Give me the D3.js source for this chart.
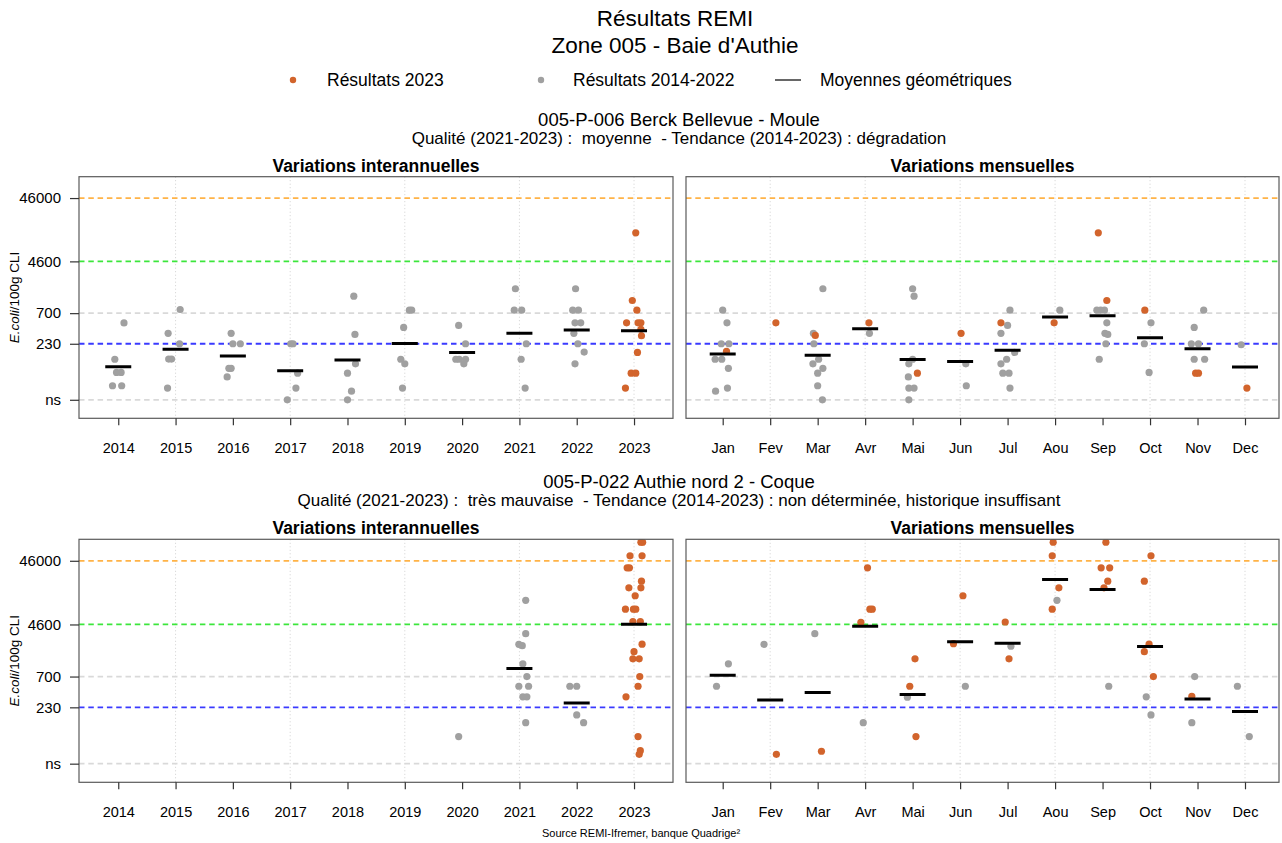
<!DOCTYPE html>
<html><head><meta charset="utf-8">
<script src="https://cdn.jsdelivr.net/npm/d3@7"></script>
<style>
body{margin:0;background:#fff;}
text{font-family:"Liberation Sans",Arial,sans-serif;fill:#000;}
</style>
</head><body>
<svg id="chart" width="1282" height="843"></svg>
<script>
// ---------------- DATA ----------------
const years = [2014,2015,2016,2017,2018,2019,2020,2021,2022,2023];
const months = ["Jan","Fev","Mar","Avr","Mai","Jun","Jul","Aou","Sep","Oct","Nov","Dec"];
const yTickValues = [30,230,700,4600,46000];
const yTickLabels = ["ns","230","700","4600","46000"];
const thresholdValues = [46000,4600,700,230,30];

const mainTitle = "Résultats REMI";
const zoneTitle = "Zone 005 - Baie d'Authie";
const legendLabels = ["Résultats 2023","Résultats 2014-2022","Moyennes géométriques"];
const sourceText = "Source REMI-Ifremer, banque Quadrige²";

// Station 1 : 005-P-006 Berck Bellevue - Moule
const s1Title = "005-P-006 Berck Bellevue - Moule";
const s1Subtitle = "Qualité (2021-2023) :  moyenne  - Tendance (2014-2023) : dégradation";
// [year, E.coli value, jitter]
const s1YearPoints = [
 [2014,490,0.10],[2014,131,-0.06],[2014,81,-0.03],[2014,81,0.05],[2014,50,-0.10],[2014,50,0.06],
 [2015,800,0.08],[2015,336,-0.13],[2015,230,0.07],[2015,132,-0.12],[2015,132,-0.07],[2015,46,-0.14],
 [2016,336,-0.03],[2016,230,0],[2016,230,0.13],[2016,94,-0.07],[2016,94,-0.03],[2016,69,-0.10],
 [2017,230,0.01],[2017,230,0.05],[2017,79,0.13],[2017,46,0.10],[2017,30,-0.05],
 [2018,1300,0.11],[2018,323,0.13],[2018,111,0.14],[2018,79,0],[2018,41,0.07],[2018,30,0],
 [2019,780,0.12],[2019,780,0.08],[2019,417,-0.02],[2019,131,-0.07],[2019,111,0],[2019,46,-0.04],
 [2020,448,-0.06],[2020,230,0.06],[2020,131,-0.11],[2020,131,-0.05],[2020,131,0.06],[2020,111,0.03],
 [2021,1700,-0.07],[2021,780,-0.09],[2021,780,0.04],[2021,230,0.12],[2021,131,0.03],[2021,46,0.10],
 [2022,1700,-0.02],[2022,780,-0.07],[2022,780,0.03],[2022,493,-0.03],[2022,493,0.07],[2022,336,-0.05],[2022,230,0.02],[2022,170,0.13],[2022,111,-0.03],
 [2023,13000,0.03],[2023,1110,-0.03],[2023,780,0.05],[2023,493,-0.13],[2023,493,0.07],[2023,493,0.12],[2023,390,0.12],[2023,308,0.13],[2023,168,0.06],[2023,79,-0.05],[2023,79,0.03],[2023,46,-0.15]
];
const s1YearMeans = [100,188,147,86,127,232,168,336,378,369];
// [month, value, 2023 flag, jitter]
const s1MonthPoints = [
 [1,780,0,0],[1,493,0,0.09],[1,230,0,-0.03],[1,230,0,0.13],[1,131,0,-0.16],[1,131,0,-0.02],[1,94,0,0.12],[1,46,0,0.10],[1,41,0,-0.15],[1,175,1,0.08],
 [2,493,1,0.12],
 [3,1700,0,0.11],[3,336,0,-0.09],[3,230,0,-0.08],[3,131,0,0.02],[3,111,0,-0.10],[3,94,0,0.11],[3,79,0,0],[3,50,0,0],[3,30,0,0.10],[3,312,1,-0.05],
 [4,336,0,0.09],[4,493,1,0.08],
 [5,1700,0,0],[5,1300,0,0.03],[5,131,0,0],[5,111,0,-0.08],[5,69,0,-0.09],[5,46,0,-0.08],[5,46,0,0.03],[5,30,0,-0.08],[5,79,1,0.10],
 [6,111,0,0.12],[6,50,0,0.13],[6,336,1,0.02],
 [7,780,0,0.05],[7,448,0,0],[7,336,0,-0.14],[7,168,0,0.15],[7,131,0,-0.02],[7,111,0,-0.14],[7,79,0,-0.10],[7,79,0,0.03],[7,46,0,0.05],[7,493,1,-0.14],
 [8,780,0,0.10],[8,493,1,-0.02],
 [9,780,0,-0.12],[9,780,0,-0.04],[9,780,0,0.04],[9,493,0,0.09],[9,336,0,0.05],[9,323,0,0.11],[9,230,0,0.07],[9,131,0,-0.07],[9,13000,1,-0.09],[9,1110,1,0.09],
 [10,493,0,0.02],[10,230,0,-0.12],[10,81,0,-0.02],[10,780,1,-0.11],
 [11,780,0,0.13],[11,417,0,-0.07],[11,230,0,-0.13],[11,230,0,0.02],[11,131,0,-0.07],[11,131,0,0.15],[11,79,1,-0.04],[11,79,1,0.02],
 [12,222,0,-0.08],[12,46,1,0.04]
];
const s1MonthMeans = [158,null,151,396,130,121,181,606,636,286,192,99];

// Station 2 : 005-P-022 Authie nord 2 - Coque
const s2Title = "005-P-022 Authie nord 2 - Coque";
const s2Subtitle = "Qualité (2021-2023) :  très mauvaise  - Tendance (2014-2023) : non déterminée, historique insuffisant";
const s2YearPoints = [
 [2020,80,-0.06],
 [2021,11000,0.11],[2021,3300,0.11],[2021,2240,-0.01],[2021,2140,0.05],[2021,1110,0.06],[2021,700,0.13],[2021,493,-0.01],[2021,493,0.16],[2021,336,0.06],[2021,336,0.13],[2021,132,0.11],
 [2022,493,-0.12],[2022,493,0],[2022,175,0],[2022,132,0.12],
 [2023,90000,0.12],[2023,90000,0.15],[2023,55000,-0.07],[2023,55000,0.14],[2023,35700,-0.12],[2023,35700,-0.08],[2023,22000,0.13],[2023,17300,-0.09],[2023,17300,0.12],[2023,13000,0.02],[2023,8000,-0.15],[2023,8000,-0.01],[2023,8000,0.03],[2023,5100,-0.02],[2023,5100,0.11],[2023,2260,0.14],[2023,1720,0],[2023,1330,-0.02],[2023,1330,0.09],[2023,700,0.10],[2023,493,0.07],[2023,336,-0.14],[2023,80,0.07],[2023,48,0.11],[2023,42,0.09]
];
const s2YearMeans = [null,null,null,null,null,null,null,938,270,4620];
const s2MonthPoints = [
 [1,1110,0,0.12],[1,493,0,-0.13],
 [2,2240,0,-0.13],[2,42,1,0.13],
 [3,3300,0,-0.06],[3,47,1,0.08],
 [4,132,0,-0.04],[4,35700,1,0.05],[4,8000,1,0.10],[4,8000,1,0.15],[4,4980,1,-0.09],
 [5,331,0,-0.11],[5,1330,1,0.05],[5,493,1,-0.06],[5,80,1,0.07],
 [6,493,0,0.11],[6,13000,1,0.06],[6,2300,1,-0.14],
 [7,2100,0,0.07],[7,5030,1,-0.05],[7,1330,1,0.03],
 [8,11000,0,0.04],[8,90000,1,-0.04],[8,55000,1,-0.06],[8,17300,1,0.08],[8,8000,1,-0.06],
 [9,493,0,0.13],[9,90000,1,0.07],[9,35700,1,-0.03],[9,35700,1,0.15],[9,22000,1,0.11],[9,17300,1,0.03],
 [10,336,0,-0.08],[10,175,0,0.02],[10,55000,1,0.02],[10,22000,1,-0.12],[10,2260,1,-0.02],[10,1720,1,-0.12],[10,700,1,0.07],
 [11,700,0,-0.06],[11,132,0,-0.12],[11,343,1,-0.12],
 [12,493,0,-0.16],[12,80,0,0.09]
];
const s2MonthMeans = [734,301,392,4300,365,2470,2340,23400,16300,2080,312,197];

// ---------------- STYLE / LAYOUT ----------------
const COL_RECENT = "#D2642C", COL_OLD = "#A0A0A0";
const thresholdColors = ["#FFB347","#3CE63C","#D9D9D9","#3A3AFF","#D9D9D9"];
const FONT = '"Liberation Sans", Arial, sans-serif';
const W = 1282, H = 843;
const LEFT = [79, 673], RIGHT = [686, 1279];
const ROWS = [[176.7, 418.3], [539.3, 782.3]];
const yDomain = [15.3, 100000];

const svg = d3.select("#chart");
svg.append("rect").attr("width", W).attr("height", H).attr("fill", "#fff");
const defs = svg.append("defs");

function txt(x, y, s, size, opts = {}) {
  const t = svg.append("text").attr("x", x).attr("y", y)
    .attr("text-anchor", opts.anchor || "middle")
    .style("font-size", size + "px").style("white-space", "pre")
    .style("font-weight", opts.bold ? "bold" : "normal")
    .text(s);
  return t;
}

// Titles
const CX = 675;
txt(CX, 26, mainTitle, 22.5);
txt(CX, 53, zoneTitle, 22.5);

// Legend
svg.append("circle").attr("cx", 293).attr("cy", 80).attr("r", 3.2).attr("fill", COL_RECENT);
txt(327, 86, legendLabels[0], 17.5, {anchor: "start"});
svg.append("circle").attr("cx", 541).attr("cy", 80).attr("r", 3.2).attr("fill", COL_OLD);
txt(573, 86, legendLabels[1], 17.5, {anchor: "start"});
svg.append("line").attr("x1", 775).attr("x2", 801).attr("y1", 80).attr("y2", 80).attr("stroke", "#000").attr("stroke-width", 1.2);
txt(820, 86, legendLabels[2], 17.5, {anchor: "start"});

let clipId = 0;
function drawPanel(xr, yr, xScale, tickVals, tickLabs, gridVals, points, means, meanKeys, showY) {
  const y = d3.scaleLog().domain(yDomain).range([yr[1], yr[0]]);
  const g = svg.append("g");
  const id = "clip" + (clipId++);
  defs.append("clipPath").attr("id", id).append("rect")
    .attr("x", xr[0]).attr("y", yr[0]).attr("width", xr[1] - xr[0]).attr("height", yr[1] - yr[0]);
  const inner = g.append("g").attr("clip-path", `url(#${id})`);
  inner.selectAll(".grid").data(gridVals).join("line")
    .attr("x1", d => xScale(d)).attr("x2", d => xScale(d))
    .attr("y1", yr[0]).attr("y2", yr[1])
    .attr("stroke", "#D0D0D0").attr("stroke-width", 1).attr("stroke-dasharray", "1,2.5");
  inner.selectAll(".thr").data(thresholdValues).join("line")
    .attr("x1", xr[0]).attr("x2", xr[1])
    .attr("y1", d => y(d)).attr("y2", d => y(d))
    .attr("stroke", (d, i) => thresholdColors[i]).attr("stroke-width", 1.8)
    .attr("stroke-dasharray", "5.5,3.8");
  const sorted = points.slice().sort((a, b) => a.recent - b.recent);
  inner.selectAll(".pt").data(sorted).join("circle")
    .attr("cx", d => xScale(d.x + d.j)).attr("cy", d => y(d.v)).attr("r", 3.6)
    .attr("fill", d => d.recent ? COL_RECENT : COL_OLD);
  const md = meanKeys.map((k, i) => ({k, m: means[i]})).filter(d => d.m != null);
  inner.selectAll(".mean").data(md).join("line")
    .attr("x1", d => xScale(d.k) - 13).attr("x2", d => xScale(d.k) + 13)
    .attr("y1", d => y(d.m)).attr("y2", d => y(d.m))
    .attr("stroke", "#000").attr("stroke-width", 3);
  g.append("rect").attr("x", xr[0]).attr("y", yr[0]).attr("width", xr[1] - xr[0]).attr("height", yr[1] - yr[0])
    .attr("fill", "none").attr("stroke", "#5a5a5a").attr("stroke-width", 1.2);
  const xa = g.append("g").attr("transform", `translate(0,${yr[1]})`)
    .call(d3.axisBottom(xScale).tickValues(tickVals).tickFormat((d, i) => tickLabs[i]).tickSize(7).tickSizeOuter(0).tickPadding(17));
  xa.select(".domain").remove();
  xa.selectAll("line").attr("stroke", "#333").attr("stroke-width", 1.2);
  xa.selectAll("text").style("font-size", "14.5px").style("font-family", FONT).attr("fill", "#000");
  if (showY) {
    const ya = g.append("g").attr("transform", `translate(${xr[0]},0)`)
      .call(d3.axisLeft(y).tickValues(yTickValues).tickFormat((d, i) => yTickLabels[i]).tickSize(9).tickSizeOuter(0).tickPadding(9));
    ya.select(".domain").remove();
    ya.selectAll("line").attr("stroke", "#333").attr("stroke-width", 1.2);
    ya.selectAll("text").style("font-size", "15px").style("font-family", FONT).attr("fill", "#000");
    const cy = (yr[0] + yr[1]) / 2;
    const lab = svg.append("text").attr("transform", `translate(19,${cy}) rotate(-90)`)
      .attr("text-anchor", "middle").style("font-size", "13.5px");
    lab.append("tspan").style("font-style", "italic").text("E.coli");
    lab.append("tspan").text("/100g CLI");
  }
}

const xYear = d3.scaleLinear().domain([2013.315, 2023.68]).range(LEFT);
const xMonth = d3.scaleLinear().domain([0.227, 12.716]).range(RIGHT);
const monthNums = months.map((m, i) => i + 1);

const stations = [
  {title: s1Title, sub: s1Subtitle, yp: s1YearPoints, ym: s1YearMeans, mp: s1MonthPoints, mm: s1MonthMeans},
  {title: s2Title, sub: s2Subtitle, yp: s2YearPoints, ym: s2YearMeans, mp: s2MonthPoints, mm: s2MonthMeans}
];
const titleY = [[126, 144, 172], [488, 506, 534]];

stations.forEach((s, r) => {
  const yr = ROWS[r];
  txt(CX + 4, titleY[r][0], s.title, 18.5);
  txt(CX + 4, titleY[r][1], s.sub, 17);
  txt((LEFT[0] + LEFT[1]) / 2, titleY[r][2], "Variations interannuelles", 17.5, {bold: true});
  txt((RIGHT[0] + RIGHT[1]) / 2, titleY[r][2], "Variations mensuelles", 17.5, {bold: true});
  const yPts = s.yp.map(d => ({x: d[0], v: d[1], j: d[2], recent: d[0] === 2023 ? 1 : 0}));
  const mPts = s.mp.map(d => ({x: d[0], v: d[1], recent: d[2], j: d[3]}));
  drawPanel(LEFT, yr, xYear, years, years.map(String), years.filter(y => y % 2 === 1), yPts, s.ym, years, true);
  drawPanel(RIGHT, yr, xMonth, monthNums, months, monthNums.filter(m => m % 2 === 0), mPts, s.mm, monthNums, false);
});

txt(641, 837, sourceText, 11);
</script>
</body></html>
